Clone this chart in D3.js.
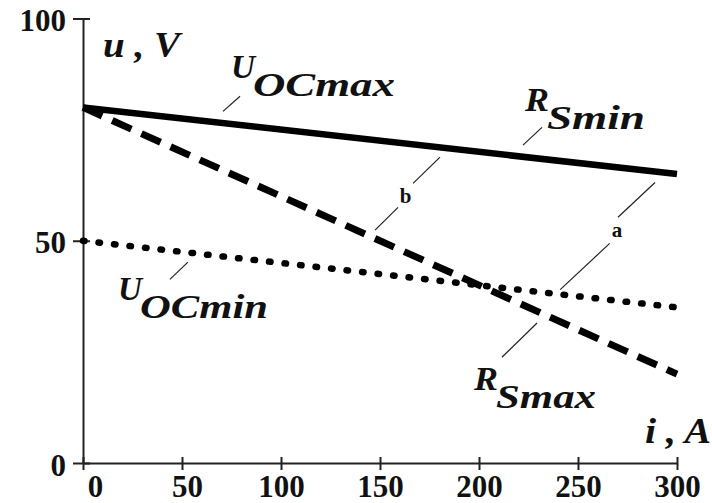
<!DOCTYPE html>
<html>
<head>
<meta charset="utf-8">
<script src="https://cdn.jsdelivr.net/npm/d3@7/dist/d3.min.js"></script>
<style>
  html, body { margin: 0; padding: 0; background: #fff; }
  svg { display: block; }
  text { font-family: "Liberation Serif", "Times New Roman", serif; fill: #111; }
</style>
</head>
<body>
<svg id="chart" width="712" height="503"></svg>
<script>
// Load characteristics: terminal voltage u (V) versus current i (A)
const current   = [0, 300];
const uOCmaxRSmin = [80, 65];   // solid
const uOCmaxRSmax = [80, 20];   // dashed
const uOCminRSmin = [50, 35];   // dotted

const xTicks = [0, 50, 100, 150, 200, 250, 300];
const yTicks = [0, 50, 100];

// curve labels (position in data units: i, u)
const curveLabels = [
  { main: "U", sub: "OCmax", at: [74.7, 86.7], subLen: 142 },
  { main: "R", sub: "Smin",  at: [223.2, 79.3], subLen: 98 },
  { main: "U", sub: "OCmin", at: [17.7, 36.6], subLen: 128 },
  { main: "R", sub: "Smax",  at: [197.5, 16.4], subLen: 100 }
];
const pointLetters = [
  { text: "a", at: [267.0, 50.8] },
  { text: "b", at: [160.0, 58.4] }
];
// leader lines, [i1, u1, i2, u2]
const leaders = [
  [70.7, 79.1, 79.3, 82.5],
  [222.2, 71.5, 231.8, 75.5],
  [270.2, 55.3, 288.9, 63.1],
  [241.0, 39.0, 266.0, 49.4],
  [166.7, 62.9, 180.3, 68.8],
  [147.5, 52.4, 159.1, 57.5],
  [43.9, 41.3, 53.0, 45.2],
  [211.6, 23.8, 229.3, 31.5]
];

const svg = d3.select("#chart");
const x = d3.scaleLinear().domain([0, 300]).range([83, 677]);
const y = d3.scaleLinear().domain([0, 100]).range([463, 18.5]);

// axes
const gx = svg.append("g").attr("transform", `translate(0,${y(0)})`)
  .call(d3.axisBottom(x).tickValues(xTicks).tickSizeOuter(0).tickSizeInner(7));
const gy = svg.append("g").attr("transform", `translate(${x(0)},0)`)
  .call(d3.axisLeft(y).tickValues(yTicks).tickSizeOuter(0).tickSizeInner(10));

[gx, gy].forEach(g => {
  g.select(".domain").attr("stroke", "#222").attr("stroke-width", 2);
  g.selectAll(".tick line").attr("stroke", "#222").attr("stroke-width", 2);
  g.selectAll(".tick text")
    .attr("font-family", "Liberation Serif, Times New Roman, serif")
    .attr("font-weight", "bold").attr("font-size", 31).attr("fill", "#111");
});
gx.selectAll(".tick line").attr("y1", -6).attr("y2", 7);
gx.selectAll(".tick text").attr("y", 34).attr("dy", 0)
  .attr("dx", d => d === 0 ? 12 : (d === 50 ? 5 : 0));
gy.selectAll(".tick line").attr("x1", 7).attr("x2", -10);
gy.selectAll(".tick text").attr("x", -17).attr("dy", 0).attr("y", 12);

// curves
const line = d3.line().x(d => x(d[0])).y(d => y(d[1]));
const series = [
  { v: uOCmaxRSmin, dash: null, cap: "butt", w: 6.5 },
  { v: uOCmaxRSmax, dash: "21 11", cap: "butt", w: 7 },
  { v: uOCminRSmin, dash: "1.5 14.1", cap: "round", w: 6.5 }
];
series.forEach(s => {
  svg.append("path")
    .datum(current.map((c, k) => [c, s.v[k]]))
    .attr("d", line)
    .attr("fill", "none")
    .attr("stroke", "#000")
    .attr("stroke-width", s.w)
    .attr("stroke-linecap", s.cap)
    .attr("stroke-dasharray", s.dash);
});

// leader lines
svg.append("g").selectAll("line").data(leaders).join("line")
  .attr("x1", d => x(d[0])).attr("y1", d => y(d[1]))
  .attr("x2", d => x(d[2])).attr("y2", d => y(d[3]))
  .attr("stroke", "#222").attr("stroke-width", 1.2);

// curve labels with subscripts
const lab = svg.append("g").attr("font-style", "italic").attr("font-weight", "bold");
curveLabels.forEach(l => {
  const px = x(l.at[0]), py = y(l.at[1]);
  lab.append("text").attr("x", px).attr("y", py).attr("font-size", 33)
    .attr("textLength", 24).attr("lengthAdjust", "spacingAndGlyphs").text(l.main);
  lab.append("text").attr("x", px + 22).attr("y", py + 18).attr("font-size", 33)
    .attr("textLength", l.subLen).attr("lengthAdjust", "spacingAndGlyphs").text(l.sub);
});

// point letters
svg.append("g").selectAll("text").data(pointLetters).join("text")
  .attr("x", d => x(d.at[0])).attr("y", d => y(d.at[1]))
  .attr("font-size", 21).attr("font-weight", "bold").text(d => d.text);

// axis titles
svg.append("text").attr("x", x(0) + 20).attr("y", y(100) + 38.5)
  .attr("font-size", 35).attr("font-style", "italic").attr("font-weight", "bold")
  .attr("textLength", 77).attr("lengthAdjust", "spacingAndGlyphs").text("u , V");
svg.append("text").attr("x", x(300) - 32).attr("y", y(0) - 20)
  .attr("font-size", 35).attr("font-style", "italic").attr("font-weight", "bold")
  .attr("textLength", 66).attr("lengthAdjust", "spacingAndGlyphs").text("i , A");
</script>
</body>
</html>
